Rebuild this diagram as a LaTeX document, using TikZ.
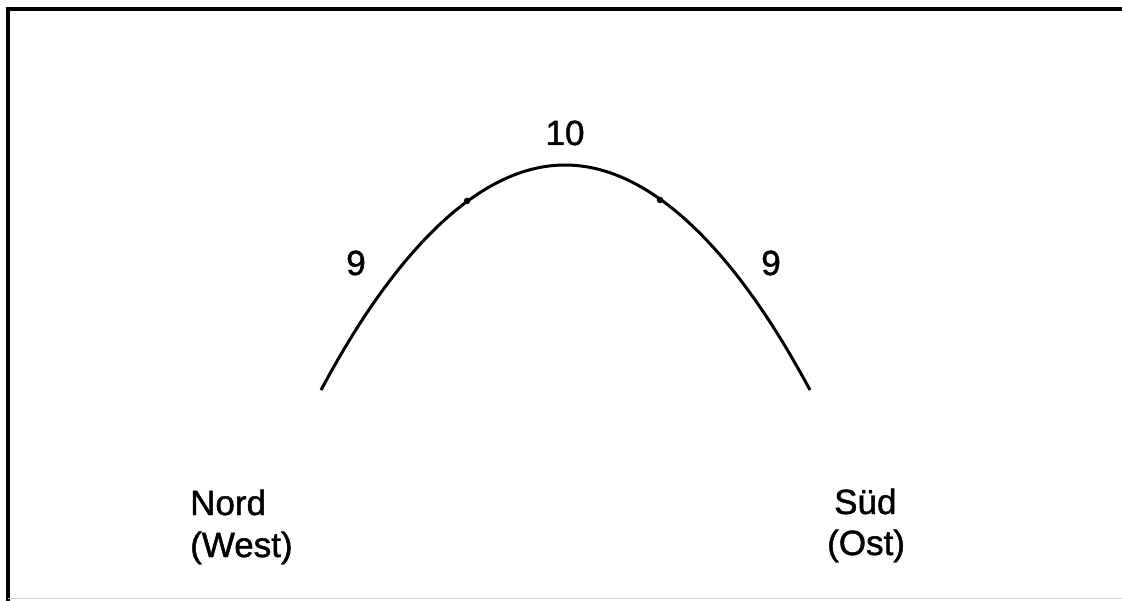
\documentclass[tikz,border=0pt]{standalone}
\usepackage{fontspec}
\setmainfont{Liberation Sans}
\newfontfamily\lblfont[FakeBold=1.3]{Liberation Sans}
\usetikzlibrary{positioning}
\tikzset{
  frameline/.style={line width=3.4pt, line cap=rect},
  faintline/.style={line width=1pt, draw=black!18},
  curveline/.style={line width=3pt},
  knot/.style={circle, fill, inner sep=0pt, minimum size=6.5pt},
  lbl/.style={font=\lblfont\fontsize{35}{41}\selectfont, inner sep=0pt},
}

\begin{document}
\begin{tikzpicture}[x=1pt, y=-1pt]
  \useasboundingbox (0,0) rectangle (1122,601);

  % frame
  \coordinate (fbl) at (8,601);
  \coordinate (ftl) at (8,9);
  \coordinate (ftr) at (1122,9);
  \draw[frameline] (fbl) -- (ftl) -- (ftr);
  \draw[faintline] (8,598.5) -- (1122,598.5);

  % curve
  \coordinate (start) at (321,390);
  \coordinate (top) at (565,165);
  \coordinate (end) at (810,390);
  \draw[curveline] (start) parabola bend (top) (end);
  \node[knot] (kleft) at (467,201) {};
  \node[knot] (kright) at (660,200) {};

  % labels
  \node[lbl, anchor=base] (ten) at (565,145) {10};
  \node[lbl, anchor=base] (nineleft) at (356,275) {9};
  \node[lbl, anchor=base] (nineright) at (771,275) {9};

  \node[lbl, anchor=base west] (nord) at (190,515) {Nord};
  \node[lbl, anchor=base west] (west) at (190,557) {(West)};
  \node[lbl, anchor=base west] (sued) at (834,514) {Süd};
  \node[lbl, anchor=base west] (ost) at (827,555) {(Ost)};
\end{tikzpicture}
\end{document}
